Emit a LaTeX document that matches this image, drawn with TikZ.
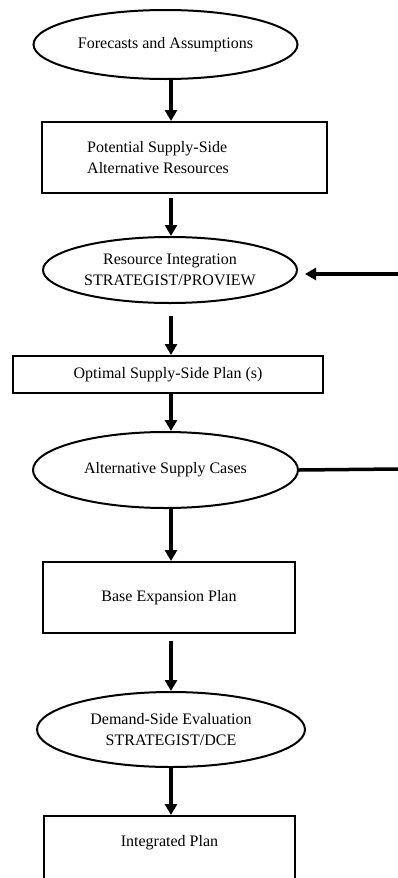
\documentclass[tikz,border=0pt]{standalone}
\usepackage{fontspec}
\setmainfont{Liberation Serif}
\usetikzlibrary{arrows.meta,shapes.geometric}
\begin{document}
\begin{tikzpicture}[x=1pt,y=-1pt,
  every node/.style={font=\fontsize{16}{21}\selectfont},
  ell/.style={ellipse,draw,line width=2pt,inner sep=0pt,align=center},
  bx/.style={rectangle,draw,line width=2pt,inner sep=0pt,align=center},
  arr/.style={line width=3.5pt,-{Triangle[width=12pt,length=11pt]}},
  ln/.style={line width=3.5pt}]
\clip (0,0) rectangle (398,878);
\fill[white] (0,0) rectangle (398,878);
\coordinate (ax) at (171,0);
\coordinate (rt1) at (398,274);
\coordinate (rt2) at (398,469);
\node[ell,minimum width=264pt,minimum height=69pt] (e1) at (165.5,44.5) {Forecasts and Assumptions};
\node[bx,minimum width=285pt,minimum height=71pt] (b1) at (184.5,157.5) {};
\node[anchor=west,align=left,inner sep=0pt] (t1) at (87,157.5) {Potential Supply-Side\\Alternative Resources};
\node[ell,minimum width=254pt,minimum height=66pt] (e2) at (170,270) {Resource Integration\\STRATEGIST/PROVIEW};
\node[bx,minimum width=310pt,minimum height=37pt] (b2) at (168,374.5) {Optimal Supply-Side Plan (s)};
\node[ell,minimum width=265pt,minimum height=76pt] (e3) at (165.5,470) {Alternative Supply Cases};
\node[bx,minimum width=252pt,minimum height=71pt] (b3) at (169,597.5) {Base Expansion Plan};
\node[ell,minimum width=268pt,minimum height=75pt] (e4) at (171,729.5) {Demand-Side Evaluation\\STRATEGIST/DCE};
\node[bx,minimum width=251pt,minimum height=80pt,anchor=north] (b4) at (169.5,815) {};
\node (t4) at (169.5,843) {Integrated Plan};
\draw[arr] (e1.south -| ax) -- (b1.north -| ax);
\draw[arr,shorten <=4pt] (b1.south -| ax) -- (e2.north -| ax);
\draw[arr,shorten <=12pt] (e2.south -| ax) -- (b2.north -| ax);
\draw[arr] (b2.south -| ax) -- (e3.north -| ax);
\draw[arr] (e3.south -| ax) -- (b3.north -| ax);
\draw[arr,shorten <=7pt] (b3.south -| ax) -- (e4.north -| ax);
\draw[arr] (e4.south -| ax) -- (b4.north -| ax);
\draw[arr,shorten >=7pt] (rt1) -- (e2.east |- rt1);
\draw[ln] (e3.east) -- (rt2);
\end{tikzpicture}
\end{document}
